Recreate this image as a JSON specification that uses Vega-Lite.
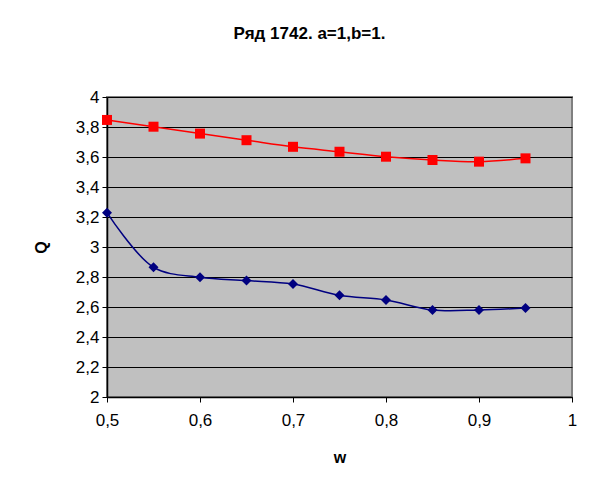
{
  "$schema": "https://vega.github.io/schema/vega-lite/v6.json",
  "width": 465,
  "height": 300,
  "autosize": "none",
  "padding": {"left": 107, "top": 97, "right": 20, "bottom": 94},
  "background": "white",
  "title": {
    "text": "Ряд 1742. a=1,b=1.",
    "font": "Liberation Sans",
    "fontSize": 17,
    "fontWeight": "bold",
    "color": "black",
    "anchor": "middle",
    "frame": "group",
    "baseline": "alphabetic",
    "offset": 32,
    "dx": -30
  },
  "config": {
    "view": {"fill": "#C0C0C0", "stroke": "#808080", "strokeWidth": 2},
    "axis": {
      "labelFont": "Liberation Sans",
      "labelFontSize": 17,
      "labelColor": "black",
      "labelFlush": false,
      "titleFont": "Liberation Sans",
      "titleFontSize": 16,
      "titleFontWeight": "bold",
      "titleColor": "black",
      "domainColor": "black",
      "domainWidth": 1.5,
      "tickColor": "black",
      "tickSize": 5,
      "tickWidth": 1,
      "gridColor": "black",
      "gridWidth": 1,
      "gridOpacity": 1
    }
  },
  "data": {
    "values": [
      {"w": 0.5, "Q": 3.847, "s": "A"},
      {"w": 0.55, "Q": 3.802, "s": "A"},
      {"w": 0.6, "Q": 3.756, "s": "A"},
      {"w": 0.65, "Q": 3.712, "s": "A"},
      {"w": 0.7, "Q": 3.668, "s": "A"},
      {"w": 0.75, "Q": 3.635, "s": "A"},
      {"w": 0.8, "Q": 3.602, "s": "A"},
      {"w": 0.85, "Q": 3.58, "s": "A"},
      {"w": 0.9, "Q": 3.569, "s": "A"},
      {"w": 0.95, "Q": 3.591, "s": "A"},
      {"w": 0.5, "Q": 3.229, "s": "B"},
      {"w": 0.55, "Q": 2.865, "s": "B"},
      {"w": 0.6, "Q": 2.798, "s": "B"},
      {"w": 0.65, "Q": 2.776, "s": "B"},
      {"w": 0.7, "Q": 2.753, "s": "B"},
      {"w": 0.75, "Q": 2.678, "s": "B"},
      {"w": 0.8, "Q": 2.647, "s": "B"},
      {"w": 0.85, "Q": 2.58, "s": "B"},
      {"w": 0.9, "Q": 2.58, "s": "B"},
      {"w": 0.95, "Q": 2.593, "s": "B"}
    ]
  },
  "encoding": {
    "x": {
      "field": "w",
      "type": "quantitative",
      "scale": {"domain": [0.5, 1], "nice": false, "zero": false},
      "axis": {
        "title": "w",
        "values": [0.5, 0.6, 0.7, 0.8, 0.9, 1],
        "grid": false,
        "labelExpr": "replace(format(datum.value, '.2~f'), '.', ',')",
        "labelPadding": 10,
        "titlePadding": 21
      }
    },
    "y": {
      "field": "Q",
      "type": "quantitative",
      "scale": {"domain": [2, 4], "nice": false, "zero": false},
      "axis": {
        "title": "Q",
        "values": [2, 2.2, 2.4, 2.6, 2.8, 3, 3.2, 3.4, 3.6, 3.8, 4],
        "grid": true,
        "labelExpr": "replace(format(datum.value, '.2~f'), '.', ',')",
        "labelPadding": 3,
        "titlePadding": 26
      }
    },
    "color": {
      "field": "s",
      "type": "nominal",
      "scale": {"domain": ["A", "B"], "range": ["#FF0000", "#000080"]},
      "legend": null
    }
  },
  "layer": [
    {
      "mark": {"type": "line", "interpolate": "catmull-rom", "strokeWidth": 1.5}
    },
    {
      "mark": {"type": "point", "filled": true, "opacity": 1},
      "encoding": {
        "shape": {
          "field": "s",
          "type": "nominal",
          "scale": {"domain": ["A", "B"], "range": ["square", "diamond"]},
          "legend": null
        },
        "size": {"value": 100}
      }
    }
  ]
}
